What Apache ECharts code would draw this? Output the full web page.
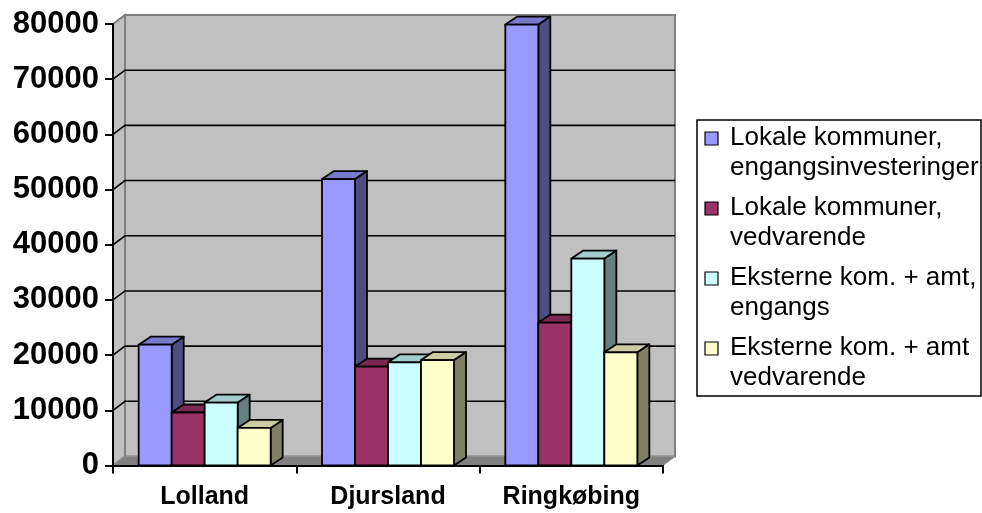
<!DOCTYPE html>
<html>
<head>
<meta charset="utf-8">
<script src="https://cdn.jsdelivr.net/npm/echarts@6/dist/echarts.min.js"></script>
<style>
  html, body { margin: 0; padding: 0; background: #ffffff; }
  #chart { width: 982px; height: 513px; }
</style>
</head>
<body>
<div id="chart"></div>
<script>
// Categories and values (kr.) per area
const categories = ['Lolland', 'Djursland', 'Ringkøbing'];
const seriesNames = [
  'Lokale kommuner,\nengangsinvesteringer',
  'Lokale kommuner,\nvedvarende',
  'Eksterne kom. + amt,\nengangs',
  'Eksterne kom. + amt\nvedvarende'
];
const lokaleEngangs = [21900, 51900, 79900];
const lokaleVedvarende = [9600, 17900, 25900];
const eksterneEngangs = [11400, 18700, 37500];
const eksterneVedvarende = [6800, 19100, 20500];
const yTicks = [0, 10000, 20000, 30000, 40000, 50000, 60000, 70000, 80000];

const seriesValues = [lokaleEngangs, lokaleVedvarende, eksterneEngangs, eksterneVedvarende];
const colors = ['#9999ff', '#993366', '#ccffff', '#ffffcc'];

// 3D look: depth offsets of the walls and the bars
const WALL_DX = 12, WALL_DY = 9;
const BAR_DX = 12, BAR_DY = 8;

function shade(hex, f) {
  const n = parseInt(hex.slice(1), 16);
  const r = Math.round(((n >> 16) & 255) * f);
  const g = Math.round(((n >> 8) & 255) * f);
  const b = Math.round((n & 255) * f);
  return 'rgb(' + r + ',' + g + ',' + b + ')';
}

const chart = echarts.init(document.getElementById('chart'), null, { renderer: 'canvas' });

// Back wall, side wall and floor of the box
const wallSeries = {
  type: 'custom',
  silent: true,
  z: 1,
  data: [[0, 0]],
  renderItem: function (params, api) {
    const cs = params.coordSys;
    const x0 = cs.x, y0 = cs.y, x1 = cs.x + cs.width, y1 = cs.y + cs.height;
    return {
      type: 'group',
      children: [
        { type: 'rect', shape: { x: x0 + WALL_DX, y: y0 - WALL_DY, width: cs.width, height: cs.height },
          style: { fill: '#c0c0c0', stroke: '#808080', lineWidth: 2 } },
        { type: 'polygon', shape: { points: [[x0, y0], [x0 + WALL_DX, y0 - WALL_DY], [x0 + WALL_DX, y1 - WALL_DY], [x0, y1]] },
          style: { fill: '#c0c0c0', stroke: '#808080', lineWidth: 2 } },
        { type: 'polygon', shape: { points: [[x0, y1], [x0 + WALL_DX, y1 - WALL_DY], [x1 + WALL_DX, y1 - WALL_DY], [x1, y1]] },
          style: { fill: '#808080', stroke: '#909090', lineWidth: 1 } }
      ]
    };
  }
};

// Gridlines running over the side wall and along the back wall
const gridSeries = {
  type: 'custom',
  silent: true,
  z: 2,
  data: yTicks.filter(function (v) { return v > 0 && v < 80000; }).map(function (v) { return [0, v]; }),
  renderItem: function (params, api) {
    const cs = params.coordSys;
    const y = api.coord([0, api.value(1)])[1];
    return {
      type: 'polyline',
      shape: { points: [[cs.x, y], [cs.x + WALL_DX, y - WALL_DY], [cs.x + cs.width + WALL_DX, y - WALL_DY]] },
      style: { stroke: '#000000', lineWidth: 1.6, fill: null }
    };
  }
};

function barSeries(idx) {
  const color = colors[idx];
  return {
    type: 'custom',
    name: seriesNames[idx],
    z: 3,
    data: seriesValues[idx].map(function (v, i) { return [i, v]; }),
    renderItem: function (params, api) {
      const top = api.coord([api.value(0), api.value(1)]);
      const base = api.coord([api.value(0), 0]);
      const band = api.size([1, 0])[0];
      const w = band * 0.18;
      const x = top[0] - 2 * w + idx * w;
      const yT = top[1], yB = base[1];
      const line = { stroke: '#000000', lineWidth: 1.8, lineJoin: 'round' };
      return {
        type: 'group',
        children: [
          { type: 'polygon', shape: { points: [[x + w, yT], [x + w + BAR_DX, yT - BAR_DY], [x + w + BAR_DX, yB - BAR_DY], [x + w, yB]] },
            style: Object.assign({ fill: shade(color, 0.5) }, line) },
          { type: 'polygon', shape: { points: [[x, yT], [x + BAR_DX, yT - BAR_DY], [x + w + BAR_DX, yT - BAR_DY], [x + w, yT]] },
            style: Object.assign({ fill: shade(color, 0.8) }, line) },
          { type: 'rect', shape: { x: x, y: yT, width: w, height: yB - yT },
            style: Object.assign({ fill: color }, line) }
        ]
      };
    }
  };
}

// Legend box drawn as graphic elements
const legendElements = [{
  type: 'rect', shape: { x: 697, y: 120, width: 284, height: 276 },
  style: { fill: '#ffffff', stroke: '#000000', lineWidth: 1.5 }
}];
seriesNames.forEach(function (name, i) {
  legendElements.push({
    type: 'rect', shape: { x: 705, y: 132 + i * 70, width: 13, height: 13 },
    style: { fill: colors[i], stroke: '#000000', lineWidth: 1.2 }
  });
  legendElements.push({
    type: 'text', x: 730, y: 123 + i * 70,
    style: { text: name, font: '26px "Liberation Sans", Arial, sans-serif', fill: '#000000', lineHeight: 30, verticalAlign: 'top' }
  });
});

chart.setOption({
  animation: false,
  backgroundColor: '#ffffff',
  grid: { left: 113, top: 24, width: 550, height: 441.5, containLabel: false },
  xAxis: {
    type: 'category',
    data: categories,
    boundaryGap: true,
    z: 10,
    axisLine: { show: true, lineStyle: { color: '#000000', width: 2 } },
    axisTick: { show: true, length: 8, lineStyle: { color: '#000000', width: 2 } },
    axisLabel: { margin: 19, color: '#000000', fontSize: 25, fontWeight: 'bold', fontFamily: '"Liberation Sans", Arial, sans-serif' },
    splitLine: { show: false }
  },
  yAxis: {
    type: 'value',
    min: 0, max: 80000, interval: 10000,
    z: 10,
    axisLine: { show: true, lineStyle: { color: '#000000', width: 2 } },
    axisTick: { show: true, length: 8, lineStyle: { color: '#000000', width: 2 } },
    axisLabel: {
      margin: 14, color: '#000000', fontSize: 31, fontWeight: 'bold',
      fontFamily: '"Liberation Sans", Arial, sans-serif',
      formatter: function (v) { return String(v); }
    },
    splitLine: { show: false }
  },
  series: [wallSeries, gridSeries, barSeries(0), barSeries(1), barSeries(2), barSeries(3)],
  graphic: legendElements
});
</script>
</body>
</html>
